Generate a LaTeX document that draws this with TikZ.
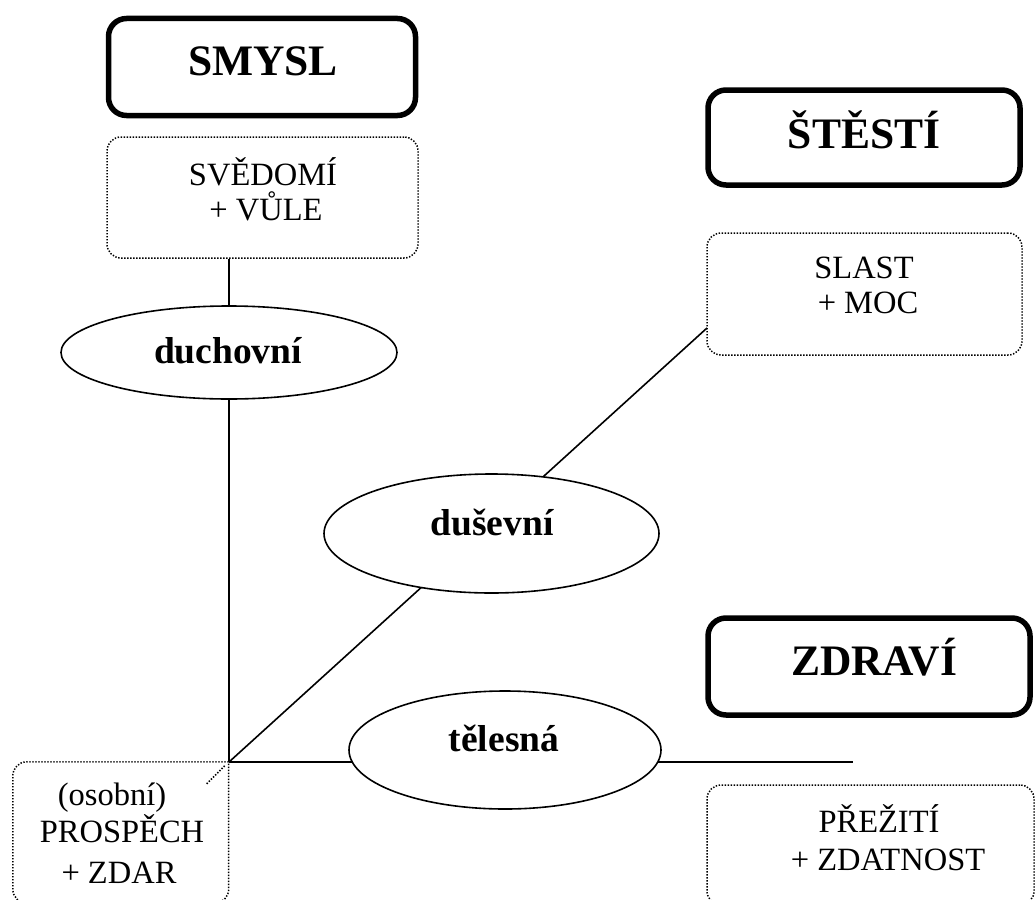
\documentclass[tikz,border=0pt]{standalone}
\usepackage{fontspec}
\setmainfont{Liberation Serif}
\usetikzlibrary{shapes.geometric,backgrounds}
\tikzset{
 headbox/.style={draw, line width=5.5pt, rounded corners=18pt, inner sep=0pt},
 dotline/.style={line width=1.5pt, dash pattern=on 1.4pt off 1.6pt},
 dotbox/.style={draw, dotline, rounded corners=14pt, inner sep=0pt},
 oval/.style={draw, ellipse, line width=1.6pt, fill=white, inner sep=0pt},
 headtxt/.style={font=\fontsize{43.5}{48}\selectfont\bfseries, anchor=base, inner sep=0pt},
 boxtxt/.style={font=\fontsize{32.5}{36}\selectfont, anchor=base, inner sep=0pt},
 ovaltxt/.style={font=\fontsize{37.5}{40}\selectfont\bfseries, anchor=base, inner sep=0pt},
 conn/.style={line width=1.6pt},
}
\begin{document}
\begin{tikzpicture}[x=1pt,y=-1pt]
\useasboundingbox (0,0) rectangle (1035,899);
\clip (0,0) rectangle (1035,899);

% heading boxes
\node[headbox, minimum width=307pt, minimum height=97pt] (smysl) at (262,67) {};
\node[headtxt] (smyslT) at (263,75) {SMYSL};
\node[headbox, minimum width=312pt, minimum height=95pt] (stesti) at (864,137.5) {};
\node[headtxt] (stestiT) at (864,148) {ŠTĚSTÍ};
\node[headbox, minimum width=322pt, minimum height=97pt] (zdravi) at (869,666.5) {};
\node[headtxt] (zdraviT) at (874,675) {ZDRAVÍ};

% dotted boxes
\node[dotbox, minimum width=311pt, minimum height=121pt] (sv) at (262.5,197.5) {};
\node[boxtxt] (sv1) at (263,185) {SVĚDOMÍ};
\node[boxtxt] (sv2) at (266,220) {+ VŮLE};

\node[dotbox, minimum width=315pt, minimum height=122pt] (sl) at (864.5,294) {};
\node[boxtxt] (sl1) at (864,278) {SLAST};
\node[boxtxt] (sl2) at (868,313) {+ MOC};

\node[inner sep=0pt, minimum width=215.5pt, minimum height=141pt] (pb) at (120.75,832.5) {};
\draw[dotline, rounded corners=14pt] (pb.north east) -- (pb.north west) -- (pb.south west) -- (pb.south east) -- (pb.north east);
\draw[dotline] ([shift={(-4,4)}]pb.north east) -- ([shift={(-23,23)}]pb.north east);
\node[boxtxt] (pb1) at (112,805) {(osobní)};
\node[boxtxt] (pb2) at (122,842) {PROSPĚCH};
\node[boxtxt] (pb3) at (119,883) {+ ZDAR};

\node[dotbox, minimum width=327pt, minimum height=120pt] (pz) at (870.5,845) {};
\node[boxtxt] (pz1) at (879,832) {PŘEŽITÍ};
\node[boxtxt] (pz2) at (888,870) {+ ZDATNOST};

% ellipses
\node[oval, minimum width=336pt, minimum height=93pt] (du) at (229,352.5) {};
\node[ovaltxt] (duT) at (228,363) {duchovní};
\node[oval, minimum width=335pt, minimum height=119pt] (ds) at (491.5,533.5) {};
\node[ovaltxt] (dsT) at (492,535) {duševní};
\node[oval, minimum width=312pt, minimum height=118pt] (te) at (505,750) {};
\node[ovaltxt] (teT) at (504,751) {tělesná};

% connector end points
\coordinate (J) at (229,762);
\coordinate (E) at (853,762);
\coordinate (S) at (707,328);

\begin{pgfonlayer}{background}
\draw[conn] (sv.south -| du.north) -- (du.north);
\draw[conn] (du.south) -- (J);
\draw[conn] (J) -- (E);
\draw[conn] (J) -- (S);
\end{pgfonlayer}
\end{tikzpicture}
\end{document}
